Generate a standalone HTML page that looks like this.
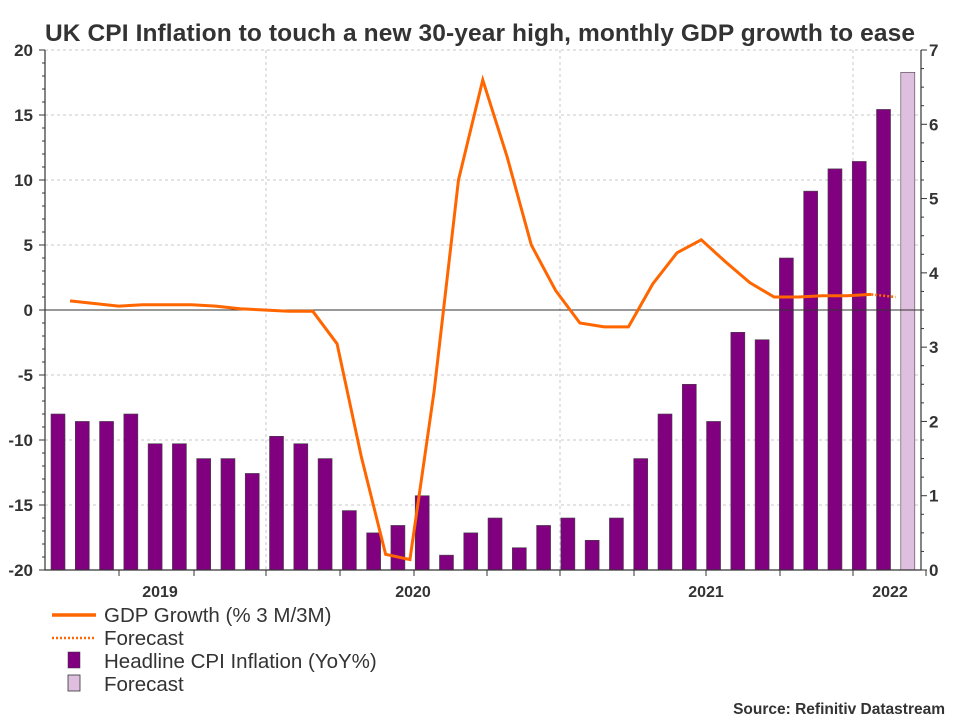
<!DOCTYPE html>
<html><head><meta charset="utf-8"><style>
body{margin:0;background:#fff;font-family:"Liberation Sans",Arial,sans-serif}
svg text{font-family:"Liberation Sans",Arial,sans-serif}
</style></head><body>
<svg id="chart" width="960" height="720" xmlns="http://www.w3.org/2000/svg">
<text x="45" y="41" font-size="24.5" font-weight="bold" fill="#333" textLength="870">UK CPI Inflation to touch a new 30-year high, monthly GDP growth to ease</text>
<g id="grid"></g><g id="bars"></g><g id="lines"></g><g id="axes"></g>
<g>
<line x1="52" y1="615" x2="96" y2="615" stroke="#ff6600" stroke-width="3.5"/>
<text x="104" y="622" font-size="20.5" fill="#333">GDP Growth (% 3 M/3M)</text>
<line x1="52" y1="638" x2="96" y2="638" stroke="#ff6600" stroke-width="2.5" stroke-dasharray="2,2"/>
<text x="104" y="645" font-size="20.5" fill="#333">Forecast</text>
<rect x="68" y="652" width="12" height="16" fill="#800080" stroke="#333" stroke-width="0.5"/>
<text x="104" y="668" font-size="20.5" fill="#333">Headline CPI Inflation (YoY%)</text>
<rect x="68" y="675" width="12" height="16" fill="#dfbfdf" stroke="#333" stroke-width="0.8"/>
<text x="104" y="691" font-size="20.5" fill="#333">Forecast</text>
</g>
<text x="945" y="714" font-size="15.5" font-weight="bold" fill="#333" text-anchor="end">Source: Refinitiv Datastream</text>
</svg>
<script>
const cpiValues=[2.1,2.0,2.0,2.1,1.7,1.7,1.5,1.5,1.3,1.8,1.7,1.5,0.8,0.5,0.6,1.0,0.2,0.5,0.7,0.3,0.6,0.7,0.4,0.7,1.5,2.1,2.5,2.0,3.2,3.1,4.2,5.1,5.4,5.5,6.2,6.7];
const cpiForecastFlags=[0,0,0,0,0,0,0,0,0,0,0,0,0,0,0,0,0,0,0,0,0,0,0,0,0,0,0,0,0,0,0,0,0,0,0,1];
const gdpValues=[0.7,0.5,0.3,0.4,0.4,0.4,0.3,0.1,0.0,-0.1,-0.1,-2.6,-11.3,-18.8,-19.2,-6.2,10.0,17.7,11.8,5.0,1.5,-1.0,-1.3,-1.3,2.0,4.4,5.4,3.7,2.1,1.0,1.0,1.1,1.1,1.2];
const gdpForecast=[1.0];
const leftTicks=[-20,-15,-10,-5,0,5,10,15,20];
const rightTicks=[0,1,2,3,4,5,6,7];
const yearLabels=["2019","2020","2021","2022"];
const yearLabelX=[160,413,706,890];

const NS="http://www.w3.org/2000/svg";
const L=45,R=921,T=50,B=570;
const yL=v=>B-(v+20)/40*(B-T);
const yR=v=>B-v/7*(B-T);
const xB=i=>58+24.28*i;
const xG=i=>70+24.28*i;
function mk(tag,attrs,parent){const e=document.createElementNS(NS,tag);for(const k in attrs)e.setAttribute(k,attrs[k]);document.getElementById(parent).appendChild(e);return e;}
leftTicks.forEach(t=>{if(t!==-20&&t!==0){const g=mk('line',{x1:L,x2:R,y1:yL(t),y2:yL(t),stroke:'#c8c8c8','stroke-dasharray':'3,3'},'grid');

}});
[266,560,853].forEach(x=>{const g=mk('line',{x1:x,x2:x,y1:T,y2:B,stroke:'#c8c8c8','stroke-dasharray':'3,3'},'grid');

});
cpiValues.forEach((v,i)=>{const b=mk('rect',{x:xB(i)-7,y:yR(v),width:14,height:B-yR(v),fill:cpiForecastFlags[i]?'#dfbfdf':'#800080',stroke:'#444','stroke-width':0.6},'bars');

});
const z=mk('line',{x1:L,x2:R,y1:yL(0),y2:yL(0),stroke:'#333','stroke-width':1},'lines');


const pts=gdpValues.map((v,i)=>xG(i)+','+yL(v)).join(' ');
const pl=mk('polyline',{points:pts,fill:'none',stroke:'#ff6600','stroke-width':3,'stroke-linejoin':'miter'},'lines');


const n=gdpValues.length-1;
const fpts=[xG(n)+','+yL(gdpValues[n])].concat(gdpForecast.map((v,j)=>xG(n+1+j)+','+yL(v))).join(' ');
const fl=mk('polyline',{points:fpts,fill:'none',stroke:'#ff6600','stroke-width':2.5,'stroke-dasharray':'2,2'},'lines');


const ax=mk('path',{d:'M'+L+' '+T+'V'+B+'H'+R+'V'+T,fill:'none',stroke:'#333','stroke-width':1.2},'axes');


for(let v=-20;v<=20;v++){mk('line',{x1:L-(v%5===0?6:3),x2:L,y1:yL(v),y2:yL(v),stroke:'#333'},'axes');}
for(let v=0;v<=7;v+=0.25){mk('line',{x1:R,x2:R+(v%1===0?6:3),y1:yR(v),y2:yR(v),stroke:'#333'},'axes');}
leftTicks.forEach(t=>{
const tx=mk('text',{x:33,y:yL(t)+6,'font-size':17,'font-weight':'bold',fill:'#333','text-anchor':'end'},'axes');tx.textContent=t;

});
rightTicks.forEach(t=>{
const tx=mk('text',{x:929,y:yR(t)+6,'font-size':17,'font-weight':'bold',fill:'#333'},'axes');tx.textContent=t;

});
[119,194,266,340,414,487,560,634,706,780,853,926].forEach(x=>{mk('line',{x1:x,x2:x,y1:B,y2:B+6,stroke:'#333'},'axes');});
yearLabels.forEach((l,i)=>{const tx=mk('text',{x:yearLabelX[i],y:597,'font-size':16,'font-weight':'bold',fill:'#333','text-anchor':'middle'},'axes');tx.textContent=l;

});
</script>
</body></html>
